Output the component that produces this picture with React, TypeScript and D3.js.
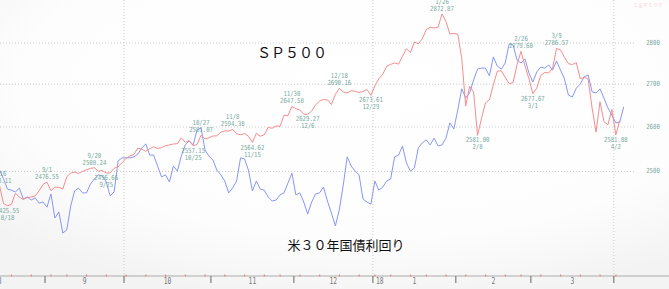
import React, { useEffect } from 'react';
import * as d3 from 'd3';

const dates = [
  "8/16","8/17","8/18","8/21","8/22","8/23","8/24","8/25","8/28","8/29","8/30","8/31",
  "9/1","9/5","9/6","9/7","9/8","9/11","9/12","9/13","9/14","9/15","9/18","9/19","9/20","9/21","9/22","9/25","9/26","9/27","9/28","9/29",
  "10/2","10/3","10/4","10/5","10/6","10/9","10/10","10/11","10/12","10/13","10/16","10/17","10/18","10/19","10/20","10/23","10/24","10/25","10/26","10/27","10/30","10/31",
  "11/1","11/2","11/3","11/6","11/7","11/8","11/9","11/10","11/13","11/14","11/15","11/16","11/17","11/20","11/21","11/22","11/24","11/27","11/28","11/29","11/30",
  "12/1","12/4","12/5","12/6","12/7","12/8","12/11","12/12","12/13","12/14","12/15","12/18","12/19","12/20","12/21","12/22","12/26","12/27","12/28","12/29",
  "1/2","1/3","1/4","1/5","1/8","1/9","1/10","1/11","1/12","1/16","1/17","1/18","1/19","1/22","1/23","1/24","1/25","1/26","1/29","1/30","1/31",
  "2/1","2/2","2/5","2/6","2/7","2/8","2/9","2/12","2/13","2/14","2/15","2/16","2/20","2/21","2/22","2/23","2/26","2/27","2/28",
  "3/1","3/2","3/5","3/6","3/7","3/8","3/9","3/12","3/13","3/14","3/15","3/16","3/19","3/20","3/21","3/22","3/23","3/26","3/27","3/28","3/29",
  "4/2","4/3","4/4"
];

const sp500 = [
  2468.11,2430.01,2425.55,2428.37,2452.51,2444.04,2438.97,2443.05,2444.24,2446.30,2457.59,2471.65,
  2476.55,2457.85,2465.54,2465.10,2461.43,2488.11,2496.48,2498.37,2495.62,2500.23,2503.87,2506.65,2508.24,2500.60,2502.22,2496.66,2496.84,2507.04,2510.06,2519.36,
  2529.12,2534.58,2537.74,2552.07,2549.33,2544.73,2550.64,2555.24,2550.93,2553.17,2557.64,2559.36,2561.26,2562.10,2575.21,2564.98,2569.13,2557.15,2560.40,2581.07,2572.83,2575.26,
  2579.36,2579.85,2587.84,2591.13,2590.64,2594.38,2584.62,2582.30,2584.84,2578.87,2564.62,2585.64,2578.85,2582.14,2599.03,2597.08,2602.42,2601.42,2627.04,2626.07,2647.58,
  2642.22,2639.44,2629.57,2629.27,2636.98,2651.50,2659.99,2664.11,2662.85,2652.01,2675.81,2690.16,2681.47,2679.25,2684.57,2683.34,2680.50,2682.62,2687.54,2673.61,
  2695.81,2713.06,2723.99,2743.15,2747.71,2751.29,2748.23,2767.56,2786.24,2776.42,2802.56,2798.03,2810.30,2832.97,2839.13,2837.54,2839.25,2872.87,2853.53,2822.43,2823.81,
  2821.98,2762.13,2648.94,2695.14,2681.66,2581.00,2619.55,2656.00,2662.94,2698.63,2731.20,2732.22,2716.26,2701.33,2703.96,2747.30,2779.60,2744.28,2713.83,
  2677.67,2691.25,2720.94,2728.12,2726.80,2738.97,2786.57,2783.02,2765.31,2749.48,2747.33,2752.01,2712.92,2716.94,2711.93,2643.69,2588.26,2658.55,2612.62,2605.00,2640.87,
  2581.88,2614.45
];

const yield30 = [
  2.845,2.819,2.789,2.786,2.781,2.792,2.760,2.766,2.757,2.763,2.748,2.751,
  2.736,2.775,2.704,2.722,2.660,2.669,2.739,2.784,2.792,2.778,2.778,2.804,2.819,2.831,2.828,2.810,2.769,2.781,2.872,2.881,
  2.881,2.881,2.884,2.892,2.910,2.922,2.889,2.889,2.857,2.825,2.831,2.810,2.857,2.842,2.886,2.919,2.931,2.919,2.963,2.969,2.904,2.886,
  2.875,2.845,2.831,2.813,2.778,2.792,2.813,2.881,2.878,2.845,2.784,2.813,2.789,2.786,2.766,2.754,2.757,2.772,2.778,2.807,2.836,
  2.772,2.778,2.751,2.716,2.751,2.775,2.778,2.795,2.754,2.719,2.681,2.728,2.801,2.884,2.857,2.842,2.831,2.760,2.751,2.745,
  2.813,2.786,2.795,2.813,2.819,2.884,2.889,2.916,2.866,2.842,2.851,2.910,2.925,2.934,2.919,2.939,2.916,2.919,2.939,2.984,2.966,
  3.022,3.084,3.057,3.072,3.110,3.142,3.145,3.145,3.122,3.178,3.151,3.142,3.160,3.216,3.213,3.169,3.160,3.172,3.131,
  3.104,3.134,3.148,3.145,3.154,3.139,3.166,3.139,3.113,3.066,3.060,3.086,3.098,3.119,3.125,3.075,3.072,3.084,3.057,3.028,3.007,
  2.984,2.986,3.031
];

const monthLabels = ["8", "9", "10", "11", "12", "1", "2", "3"];
const monthStartDates = ["9/1", "10/2", "11/1", "12/1", "1/2", "2/1", "3/1", "4/2"];
const augTradingDaysBefore = 11;
const yearLabel = "18";
const quarterStartDates = ["10/2", "1/2", "4/2"];
const gridValues = [2500, 2600, 2700, 2800];
const peakDates = ["8/16", "9/1", "9/20", "10/27", "11/8", "11/30", "12/18", "1/26", "2/26", "3/9"];
const troughDates = ["8/18", "9/25", "10/25", "11/15", "12/6", "12/29", "2/8", "3/1", "4/2"];
const titleSP = "ＳＰ５００";
const titleYield = "米３０年国債利回り";
const legendText = "Ｓ＆Ｐ５００";

const W = 669, H = 289;
const AXIS_Y = 276;
const labelColor = "#78ab9f";
const monoFont = "'DejaVu Sans Mono', monospace";
const cjkFont = "'Noto Sans CJK JP', 'Noto Sans', sans-serif";

const x = d3.scaleLinear().domain([0, 158]).range([-0.4, -0.4 + 158 * 3.95]);
const yR = d3.scaleLog().domain([2600, 2800]).range([127, 43.03]);
const yB = d3.scaleLinear().domain([2.66, 3.22]).range([233, 42.6]);

const idxOf = (d: string) => dates.indexOf(d);

function NarrowText({ x: tx, y: ty, text, anchor = "middle", fill = labelColor, size = 7, cw = 3.4 }: any) {
  return (
    <text x={tx} y={ty} textAnchor={anchor} dominantBaseline="central" fontFamily={monoFont}
      fontSize={size} fill={fill} textLength={text.length * cw} lengthAdjust="spacingAndGlyphs">{text}</text>
  );
}

export default function App() {
  useEffect(() => { document.body.style.margin = "0"; }, []);

  const redLine = d3.line<number>().x((_, i) => x(i)).y(v => yR(v))(sp500) || "";
  const blueLine = d3.line<number>().x((_, i) => x(i)).y(v => yB(v))(yield30) || "";

  const boundaries = [-augTradingDaysBefore - 0.5, ...monthStartDates.map(d => idxOf(d) - 0.5)];

  // first trading day of each week
  const weekStarts: number[] = [];
  let prevDow = 99;
  dates.forEach((d, i) => {
    const [m, dd] = d.split("/").map(Number);
    const yr = m >= 8 ? 2017 : 2018;
    const dow = new Date(yr, m - 1, dd).getDay();
    if (dow <= prevDow && i > 0) weekStarts.push(i);
    prevDow = dow;
  });

  return (
    <svg width={W} height={H} style={{ position: "absolute", left: 0, top: 0, display: "block" }}>
      <defs>
        <radialGradient id="bg" cx="0.55" cy="0.3" r="0.75">
          <stop offset="0" stopColor="#ffffff" />
          <stop offset="0.7" stopColor="#fdfdfd" />
          <stop offset="1" stopColor="#f3f3f3" />
        </radialGradient>
        <clipPath id="plot"><rect x={0} y={0} width={640} height={AXIS_Y} /></clipPath>
      </defs>
      <rect x={0} y={0} width={W} height={H} fill="url(#bg)" />

      {gridValues.map(v => (
        <g key={v}>
          <line x1={0} x2={635} y1={yR(v)} y2={yR(v)} stroke="#cccccc" strokeWidth={1} strokeDasharray="1,2" />
          <NarrowText x={653} y={yR(v)} text={String(v)} fill="#7aa8a0" />
        </g>
      ))}
      {quarterStartDates.map(d => (
        <line key={d} x1={x(idxOf(d) - 0.5)} x2={x(idxOf(d) - 0.5)} y1={0} y2={AXIS_Y}
          stroke="#cccccc" strokeWidth={1} strokeDasharray="1,2" />
      ))}

      <g clipPath="url(#plot)">
        <path d={blueLine} fill="none" stroke="#8797f4" strokeWidth={1} />
        <path d={redLine} fill="none" stroke="#f58d8d" strokeWidth={1} />
      </g>

      {peakDates.map(d => {
        const i = idxOf(d); const px = x(i); const py = yR(sp500[i]);
        return (
          <g key={"p" + d}>
            <NarrowText x={px} y={py - 12} text={d} />
            <NarrowText x={px} y={py - 5} text={sp500[i].toFixed(2)} />
          </g>
        );
      })}
      {troughDates.map(d => {
        const i = idxOf(d); const px = x(i); const py = yR(sp500[i]);
        return (
          <g key={"t" + d}>
            <NarrowText x={px} y={py + 5} text={sp500[i].toFixed(2)} />
            <NarrowText x={px} y={py + 12} text={d} />
          </g>
        );
      })}

      <text x={292} y={58} textAnchor="middle" fontFamily={cjkFont} fontSize={14} fill="#111">{titleSP}</text>
      <text x={346} y={250} textAnchor="middle" fontFamily={cjkFont} fontSize={13} fill="#111">{titleYield}</text>
      <text x={648} y={7} textAnchor="middle" fontFamily={cjkFont} fontSize={5} fill="#f7d8d8">{legendText}</text>

      <line x1={0} x2={W} y1={AXIS_Y} y2={AXIS_Y} stroke="#c4c4c4" strokeWidth={1.5} />
      {weekStarts.map(i => (
        <rect key={"w" + i} x={x(i) - 0.5} y={AXIS_Y - 1.5} width={1.2} height={2} fill="#f08080" />
      ))}
      {boundaries.slice(1).map((b, k) => (
        <line key={"mt" + k} x1={x(b)} x2={x(b)} y1={AXIS_Y} y2={AXIS_Y + 7} stroke="#666" strokeWidth={1} />
      ))}
      {monthLabels.map((lab, k) => {
        const mid = (boundaries[k] + boundaries[k + 1]) / 2;
        return <NarrowText key={"ml" + k} x={x(mid)} y={AXIS_Y + 5} text={lab} fill="#777" size={8} cw={3.8} />;
      })}
      <NarrowText x={x(boundaries[5]) + 3} y={AXIS_Y + 5} text={yearLabel} anchor="start" fill="#777" size={8} cw={3.8} />
    </svg>
  );
}
